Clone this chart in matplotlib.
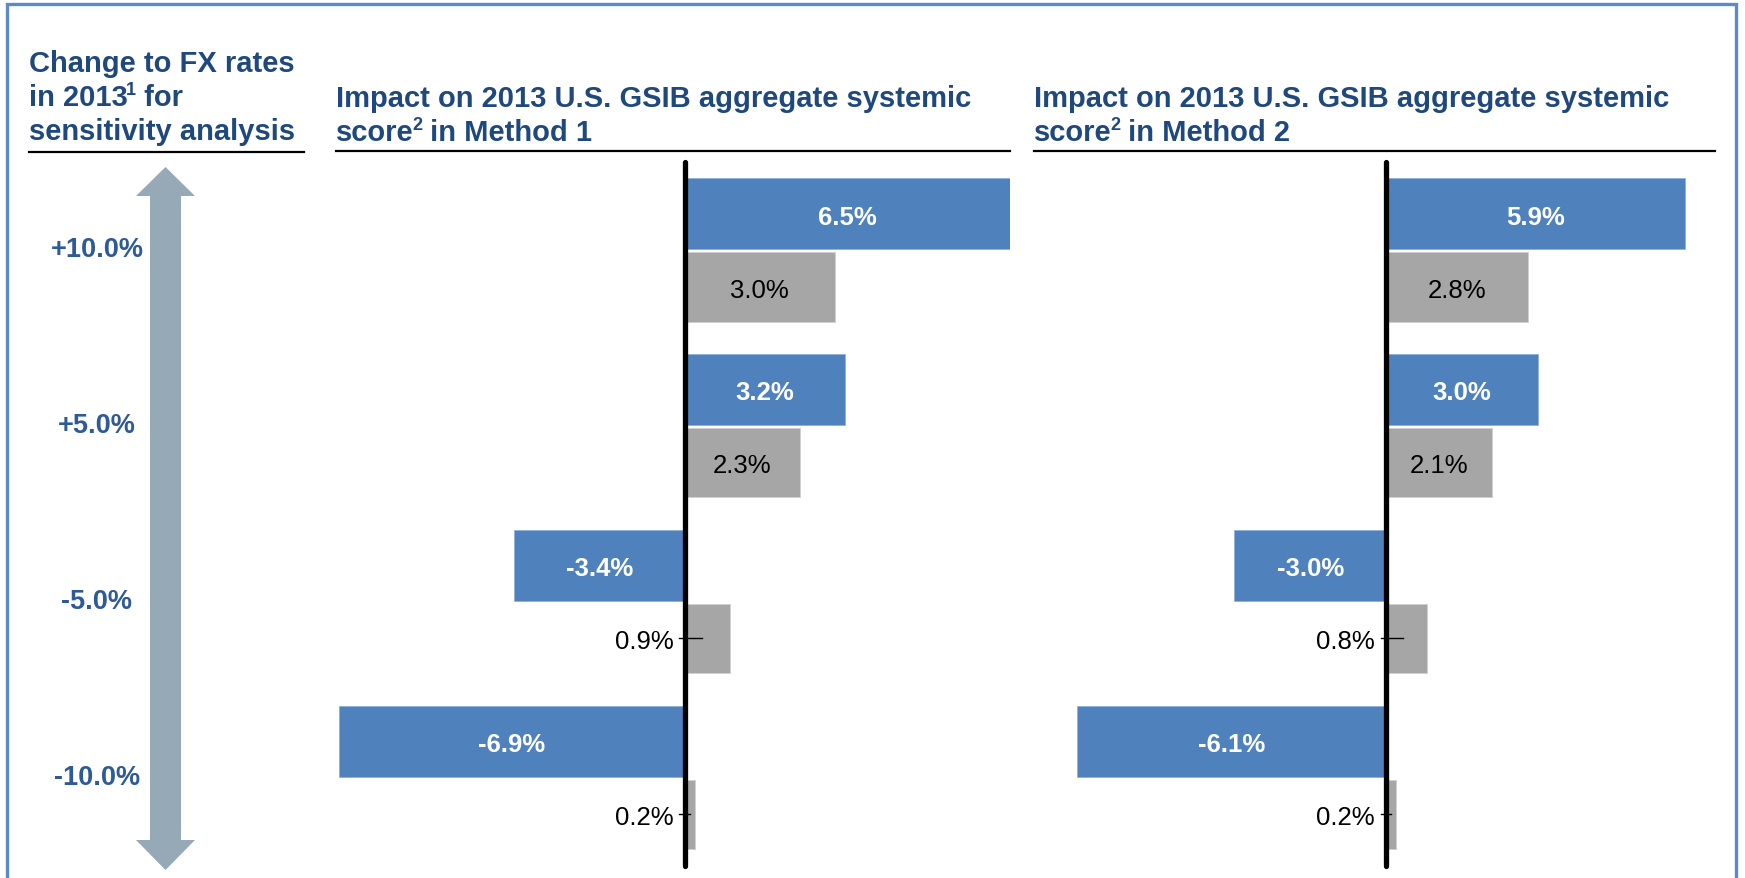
import matplotlib
matplotlib.use("Agg")
import matplotlib.pyplot as plt
from matplotlib.patches import Polygon, Rectangle
from matplotlib.lines import Line2D

plt.rcParams['font.family'] = ['Liberation Sans', 'DejaVu Sans']

# ---------------- data ----------------
fx_changes = ["+10.0%", "+5.0%", "-5.0%", "-10.0%"]
method1_blue = [6.5, 3.2, -3.4, -6.9]
method1_gray = [3.0, 2.3, 0.9, 0.2]
method2_blue = [5.9, 3.0, -3.0, -6.1]
method2_gray = [2.8, 2.1, 0.8, 0.2]
# each title line: (main text, superscript, trailing text)
left_title = [("Change to FX rates", "", ""),
              ("in 2013", "1", " for"),
              ("sensitivity analysis", "", "")]
m1_title = [("Impact on 2013 U.S. GSIB aggregate systemic", "", ""),
            ("score", "2", " in Method 1")]
m2_title = [("Impact on 2013 U.S. GSIB aggregate systemic", "", ""),
            ("score", "2", " in Method 2")]

W, H = 1745, 879
fig = plt.figure(figsize=(W / 100, H / 100), dpi=100)
renderer = fig.canvas.get_renderer()

BLUE = "#4F81BD"
GRAY = "#A6A6A6"
TITLE = "#1F497D"
LABEL = "#2E5A96"
ARROW = "#96A9B6"
FRAME = "#5B8AC8"


def fx(x):
    return x / W


def fy(y):
    return 1 - y / H


def title_line(x, y, parts, size=21):
    main, sup, tail = parts
    t = fig.text(fx(x), fy(y), main, fontsize=size, fontweight='bold',
                 color=TITLE, va='baseline', ha='left')
    if sup:
        bb = t.get_window_extent(renderer)
        xe = bb.x1 - 1.5
        s = fig.text(xe / W, fy(y - 11), sup, fontsize=size * 0.62,
                     fontweight='bold', color=TITLE, va='baseline', ha='left')
        bb2 = s.get_window_extent(renderer)
        fig.text(bb2.x1 / W, fy(y), tail, fontsize=size, fontweight='bold',
                 color=TITLE, va='baseline', ha='left')


# frame
fig.patches.append(Rectangle((fx(7), fy(900)), fx(1736) - fx(7), fy(5) - fy(900),
                             transform=fig.transFigure, fill=False,
                             edgecolor=FRAME, linewidth=2.4, zorder=0))

# left title
for i, parts in enumerate(left_title):
    title_line(29, 72 + 34 * i, parts)
fig.add_artist(Line2D([fx(29), fx(304)], [fy(153), fy(153)], color='black',
                      linewidth=1.6, transform=fig.transFigure))

# arrow
cx = 165.5
sw, hw = 15.5, 29.5
top, hb_top, bot, hb_bot = 168, 197, 871, 841
pts = [(cx, top), (cx + hw, hb_top), (cx + sw, hb_top), (cx + sw, hb_bot),
       (cx + hw, hb_bot), (cx, bot), (cx - hw, hb_bot), (cx - sw, hb_bot),
       (cx - sw, hb_top), (cx - hw, hb_top)]
fig.patches.append(Polygon([(fx(x), fy(y)) for x, y in pts], closed=True,
                           transform=fig.transFigure, facecolor=ARROW,
                           edgecolor='none'))

# category labels at group centres
ax_top, ax_h = 163.4, 703.2
for i, lab in enumerate(fx_changes):
    yc = ax_top + (i + 0.5) * ax_h / 4 - 1
    fig.text(fx(97), fy(yc), lab, fontsize=19.5, fontweight='bold', color=LABEL,
             ha='center', va='center')


def panel(left_px, right_px, blue, gray, title):
    ax = fig.add_axes([fx(left_px), fy(ax_top + ax_h), fx(right_px) - fx(left_px),
                       ax_h / H])
    ax.set_xlim(-6.9, 6.5)
    ax.set_ylim(3.5, -0.5)
    ax.axis('off')
    n = len(blue)
    yb = [i - 0.208 for i in range(n)]
    yg = [i + 0.208 for i in range(n)]
    dy = 0.016
    ax.barh(yb, blue, height=0.405, color=BLUE, edgecolor='#8FB0DA', linewidth=0.6)
    ax.barh(yg, gray, height=0.395, color=GRAY, edgecolor='#D0D0D0', linewidth=0.6)
    for y, v in zip(yb, blue):
        ax.text(v / 2, y + dy, f"{v:.1f}%", color='white', fontsize=18.5,
                fontweight='bold', ha='center', va='center')
    for y, v in zip(yg, gray):
        if v >= 1.5:
            ax.text(v / 2, y + dy, f"{v:.1f}%", color='black', fontsize=18.5,
                    ha='center', va='center')
        else:
            ax.text(-0.22, y + dy, f"{v:.1f}%", color='black', fontsize=18.5,
                    ha='right', va='center')
            ax.plot([-0.11, min(0.34, v * 0.5)], [y, y], color='black',
                    linewidth=1.0, zorder=4)
    ax.plot([0, 0], [-0.5, 3.5], color='black', linewidth=3.8,
            solid_capstyle='round', zorder=5, clip_on=False)
    for i, parts in enumerate(title):
        title_line(left_px - 3, 107 + 34 * i, parts)
    fig.add_artist(Line2D([fx(left_px - 3), fx(right_px)], [fy(152), fy(152)],
                          color='black', linewidth=1.6, transform=fig.transFigure))
    return ax


panel(338.8, 1010.2, method1_blue, method1_gray, m1_title)
panel(1037.0, 1715.0, method2_blue, method2_gray, m2_title)

fig.savefig("out.png", dpi=100)
